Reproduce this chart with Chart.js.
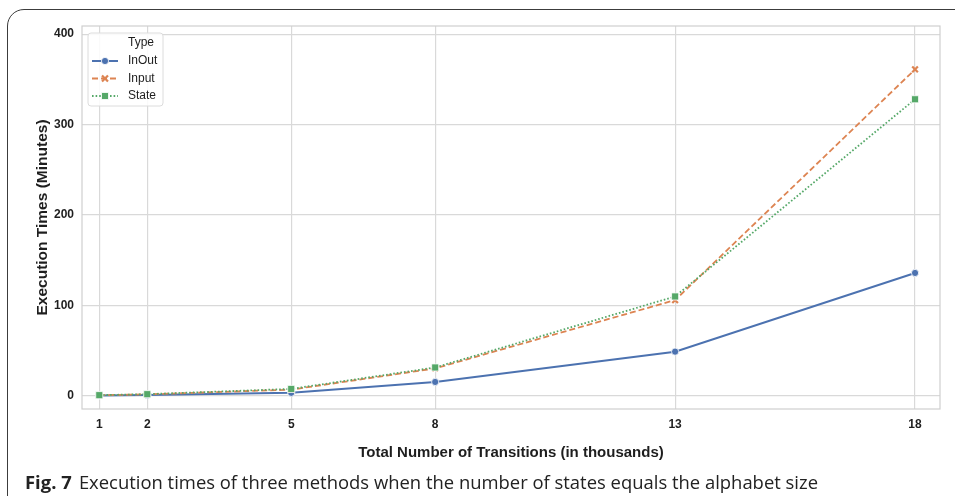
<!DOCTYPE html>
<html>
<head>
<meta charset="utf-8">
<script src="https://cdn.jsdelivr.net/npm/chart.js@4"></script>
<style>
  html, body { margin: 0; padding: 0; background: #fff; }
  #wrap { position: relative; width: 955px; height: 496px; overflow: hidden; }
  #frame { position: absolute; left: 7px; top: 9px; width: 1100px; height: 700px;
           border: 1.5px solid #3c3c3c; border-radius: 17px; box-sizing: border-box; }
  canvas { position: absolute; left: 0; top: 0; }
  #caption { position: absolute; left: 25px; top: 470px; white-space: nowrap;
             font-family: "Open Sans", "Noto Sans", sans-serif; font-size: 18px; color: #222;
             transform-origin: 0 0; }
  #caption b { font-weight: 700; margin-right: 7px; }
</style>
</head>
<body>
<div id="wrap">
  <div id="frame"></div>
  <canvas id="chart" width="955" height="496"></canvas>
  <div id="caption"><b>Fig. 7</b>Execution times of three methods when the number of states equals the alphabet size</div>
</div>
<script>
// values
const transitions = [1, 2, 5, 8, 13, 18];
const inOut = [0.5, 1, 3.5, 15.5, 49, 136];
const input = [0.8, 1.8, 7, 30.5, 106, 361];
const state = [0.9, 2, 7.8, 31.5, 110, 328];
const yTicks = [0, 100, 200, 300, 400];
const seriesNames = ['InOut', 'Input', 'State'];

const pts = arr => arr.map((v, i) => ({ x: transitions[i], y: v }));
const FONT = '"Liberation Sans", Arial, sans-serif';

// plot frame, seaborn whitegrid style
const framePlugin = {
  id: 'frame',
  beforeDatasetsDraw(chart) {
    const { ctx, chartArea: a } = chart;
    ctx.save();
    ctx.strokeStyle = '#cfcfcf';
    ctx.lineWidth = 1.2;
    ctx.strokeRect(a.left, a.top, a.right - a.left, a.bottom - a.top);
    ctx.restore();
  }
};

// legend box inside the plot, top-left
const legendPlugin = {
  id: 'innerLegend',
  afterDraw(chart) {
    const { ctx, chartArea: a } = chart;
    const x0 = a.left + 6, y0 = a.top + 7;
    ctx.save();
    ctx.fillStyle = 'rgba(255,255,255,0.85)';
    ctx.strokeStyle = '#dcdcdc';
    ctx.lineWidth = 1;
    ctx.beginPath();
    ctx.roundRect(x0, y0, 75, 73, 3);
    ctx.fill();
    ctx.stroke();
    ctx.fillStyle = '#1e1e1e';
    ctx.font = '12px ' + FONT;
    ctx.textBaseline = 'middle';
    ctx.fillText('Type', x0 + 40, y0 + 10);
    chart.data.datasets.forEach((ds, i) => {
      const y = y0 + 28 + i * 17.5;
      const mx = x0 + 17;
      ctx.strokeStyle = ds.borderColor;
      ctx.lineWidth = ds.borderWidth;
      ctx.setLineDash(ds.borderDash || []);
      ctx.beginPath();
      ctx.moveTo(x0 + 4, y);
      ctx.lineTo(x0 + 30, y);
      ctx.stroke();
      ctx.setLineDash([]);
      ctx.fillStyle = ds.pointBackgroundColor;
      ctx.strokeStyle = ds.pointBorderColor;
      ctx.lineWidth = ds.pointBorderWidth;
      ctx.beginPath();
      if (ds.pointStyle === 'circle') ctx.arc(mx, y, ds.pointRadius, 0, Math.PI * 2);
      else if (ds.pointStyle === 'rect') ctx.rect(mx - 3.5, y - 3.5, 7, 7);
      else { ctx.moveTo(mx - 3, y - 3); ctx.lineTo(mx + 3, y + 3); ctx.moveTo(mx + 3, y - 3); ctx.lineTo(mx - 3, y + 3); }
      if (ds.pointStyle !== 'crossRot') ctx.fill();
      ctx.stroke();
      ctx.fillStyle = '#1e1e1e';
      ctx.fillText(ds.label, x0 + 40, y);
    });
    ctx.restore();
  }
};

new Chart(document.getElementById('chart'), {
  type: 'line',
  data: {
    datasets: [
      {
        label: seriesNames[0], data: pts(inOut), order: 2,
        borderColor: '#4c72b0', borderWidth: 2,
        pointStyle: 'circle', pointRadius: 3.6,
        pointBackgroundColor: '#4c72b0', pointBorderColor: '#ffffff', pointBorderWidth: 0.8
      },
      {
        label: seriesNames[1], data: pts(input), order: 1,
        borderColor: '#dd8452', borderWidth: 1.8, borderDash: [6, 3],
        pointStyle: 'crossRot', pointRadius: 4,
        pointBackgroundColor: '#dd8452', pointBorderColor: '#dd8452', pointBorderWidth: 2.2
      },
      {
        label: seriesNames[2], data: pts(state), order: 0,
        borderColor: '#55a868', borderWidth: 1.8, borderDash: [1.6, 2],
        pointStyle: 'rect', pointRadius: 5,
        pointBackgroundColor: '#55a868', pointBorderColor: '#ffffff', pointBorderWidth: 0.8
      }
    ]
  },
  options: {
    responsive: false,
    animation: false,
    layout: { padding: { left: 20, right: 15, top: 26, bottom: 26 } },
    plugins: { legend: { display: false }, tooltip: { enabled: false } },
    scales: {
      x: {
        type: 'linear', min: 0.64, max: 18.52,
        afterBuildTicks: s => { s.ticks = transitions.map(v => ({ value: v })); },
        afterFit: s => { s.height = 61; },
        grid: { color: '#d9d9d9', lineWidth: 1.2, drawTicks: false },
        border: { display: false },
        ticks: { padding: 8, color: '#1e1e1e', font: { family: FONT, size: 12, weight: 'bold' } },
        title: {
          display: true, text: 'Total Number of Transitions (in thousands)', color: '#1e1e1e',
          font: { family: FONT, size: 15, weight: 'bold' },
          padding: { top: 0, bottom: 8 }
        }
      },
      y: {
        min: -14.4, max: 409,
        afterBuildTicks: s => { s.ticks = yTicks.map(v => ({ value: v })); },
        afterFit: s => { s.width = 62; },
        grid: { color: '#d9d9d9', lineWidth: 1.2, drawTicks: false },
        border: { display: false },
        ticks: { padding: 8, color: '#1e1e1e', font: { family: FONT, size: 12, weight: 'bold' } },
        title: {
          display: true, text: 'Execution Times (Minutes)', color: '#1e1e1e',
          font: { family: FONT, size: 15.5, weight: 'bold' },
          padding: { top: 13, bottom: 0 }
        }
      }
    }
  },
  plugins: [framePlugin, legendPlugin]
});

// squeeze caption to the printed width
const cap = document.getElementById('caption');
const w = cap.getBoundingClientRect().width;
cap.style.transform = 'scaleX(' + (793 / w) + ')';
</script>
</body>
</html>
